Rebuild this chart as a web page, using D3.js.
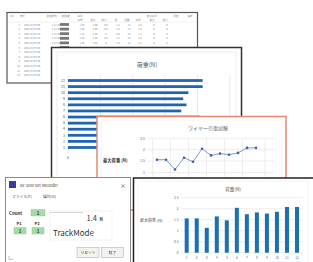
<!DOCTYPE html>
<html>
<head>
<meta charset="utf-8">
<script src="https://cdn.jsdelivr.net/npm/d3@7"></script>
<style>
html, body { margin: 0; padding: 0; background: #fff; }
svg { display: block; font-family: "Noto Sans CJK JP", "Noto Sans", sans-serif; }
</style>
</head>
<body>
<div id="chart"></div>
<script>
// Test numbers 1..12 and the max load (N) measured for each
const categories = ['1', '2', '3', '4', '5', '6', '7', '8', '9', '10', '11', '12'];
const maxLoad = [1.56, 1.56, 1.13, 1.65, 1.47, 2.04, 1.75, 1.83, 1.78, 1.86, 2.08, 2.08];
const loadTicks = [0, 0.5, 1, 1.5, 2, 2.5];

// Spreadsheet in the background
const sheetHead1 = ['No', '日付', '試験時刻', '試験者', '荷重', '', '', '', '', '', '最大荷重', '', '判定', '備考'];
const sheetHead2 = ['', '', '', '', '平均', '最大', '最小', '差', '回数', '平均', '最大', '最小', '', ''];
const sheetDates = ['2021/3/9 9:00', '2021/3/9 9:05', '2021/3/9 9:10', '2021/3/9 9:15', '2021/3/9 9:20', '2021/3/9 9:25',
  '2021/3/9 9:30', '2021/3/9 9:35', '2021/3/9 9:40', '2021/3/9 9:45', '2021/3/9 9:50', '2021/3/9 9:55'];
const sheetTimes = ['1:11:36', '1:12:04', '1:12:31', '1:12:58', '1:13:22', '1:13:49'];
const sheetValues = [
  ['1.57', '1.60', '0.5', '1.1', '12', '1.5', '0', '0'],
  ['1.55', '1.59', '0.4', '1.2', '12', '1.5', '0', '0'],
  ['1.12', '1.20', '0', '0.8', '12', '1.1', '0', '0'],
  ['1.64', '1.70', '0.5', '1.2', '12', '1.6', '0', '0'],
  ['1.48', '1.52', '0', '1.0', '12', '1.4', '0', '0'],
  ['2.03', '2.10', '0.6', '1.4', '12', '2.0', '0', '0']
];

// Recorder window
const counterValue = '1.4';
const counterUnit = 'N';
const modeLabel = 'TrackMode';

const W = 313, H = 262;
const svg = d3.select('#chart').append('svg')
  .attr('width', W).attr('height', H)
  .attr('viewBox', `0 0 ${W} ${H}`);
const defs = svg.append('defs');

function panel(id, x, y, w, h, stroke, sw) {
  defs.append('clipPath').attr('id', id)
    .append('rect').attr('x', x).attr('y', y).attr('width', w).attr('height', h);
  const g = svg.append('g').attr('clip-path', `url(#${id})`);
  g.append('rect').attr('x', x).attr('y', y).attr('width', w).attr('height', h)
    .attr('fill', '#fff');
  const frame = svg.append('rect').attr('x', x).attr('y', y).attr('width', w).attr('height', h)
    .attr('fill', 'none').attr('stroke', stroke).attr('stroke-width', sw);
  return { g, frame };
}

// ---------- spreadsheet ----------
{
  const { g } = panel('clip-sheet', 7, 12.5, 190.5, 70.5, '#555', 1.2);
  const colX = [12, 22, 52, 66, 80, 93, 104, 116, 127, 138, 152, 165, 176, 190];
  const txt = (x, y, s, anchor) => g.append('text').attr('x', x).attr('y', y)
    .attr('font-size', 2.6).attr('fill', '#888').attr('text-anchor', anchor || 'middle').text(s);
  sheetHead1.forEach((s, i) => s && txt(colX[i], 16.5, s));
  sheetHead2.forEach((s, i) => s && txt(colX[i], 20.5, s));
  g.append('line').attr('x1', 7).attr('x2', 198).attr('y1', 22).attr('y2', 22)
    .attr('stroke', '#ddd').attr('stroke-width', 0.4);
  sheetDates.forEach((d, r) => {
    const y = 25.5 + r * 4.6;
    txt(colX[0] + 8, y, String(r + 1), 'end');
    txt(colX[1] + 2, y, d, 'start');
    if (r < sheetTimes.length) {
      txt(colX[2] + 4, y, sheetTimes[r]);
      g.append('rect').attr('x', colX[3] - 6).attr('y', y - 2.4).attr('width', 9).attr('height', 2.8)
        .attr('fill', '#777');
      sheetValues[r].forEach((v, c) => txt(colX[4 + c] + 2, y, v));
    }
  });
}

// ---------- horizontal bar chart ----------
{
  const { g } = panel('clip-hbar', 51.5, 47.5, 190, 160, '#333', 1.5);
  g.append('rect').attr('x', 57).attr('y', 52).attr('width', 179).attr('height', 150)
    .attr('fill', 'none').attr('stroke', '#e2e2e2').attr('stroke-width', 0.6);
  g.append('text').attr('x', 147).attr('y', 67).attr('text-anchor', 'middle')
    .attr('font-size', 6).attr('fill', '#555').text('荷重(N)');

  const x = d3.scaleLinear().domain([0, 2.5]).range([68, 229.8]);
  const y = d3.scaleBand().domain(categories.slice().reverse()).range([75.8, 152.2]).padding(0.55);

  g.selectAll('.hgrid').data(loadTicks).enter().append('line')
    .attr('x1', d => x(d)).attr('x2', d => x(d)).attr('y1', 75).attr('y2', 153)
    .attr('stroke', '#dcdcdc').attr('stroke-width', 0.6);
  g.selectAll('.hbar').data(categories).enter().append('rect')
    .attr('x', x(0)).attr('y', d => y(d))
    .attr('width', (d, i) => x(maxLoad[i]) - x(0)).attr('height', y.bandwidth())
    .attr('fill', '#1e63b6');
  g.selectAll('.hlab').data(categories).enter().append('text')
    .attr('x', 65).attr('y', d => y(d) + y.bandwidth() / 2 + 1.2)
    .attr('text-anchor', 'end').attr('font-size', 3.6).attr('fill', '#555').text(d => d);
  g.selectAll('.htick').data(loadTicks).enter().append('text')
    .attr('x', d => x(d)).attr('y', 159).attr('text-anchor', 'middle')
    .attr('font-size', 3.6).attr('fill', '#555').text(d => d);
}

// ---------- line chart ----------
{
  const { g } = panel('clip-line', 97, 116.5, 189, 93.5, '#e58a70', 1.5);
  g.append('rect').attr('x', 101).attr('y', 120).attr('width', 181).attr('height', 100)
    .attr('fill', 'none').attr('stroke', '#ececec').attr('stroke-width', 0.6);
  g.append('text').attr('x', 208).attr('y', 130).attr('text-anchor', 'middle')
    .attr('font-size', 5).attr('fill', '#666').text('ワイヤー引張試験');
  g.append('text').attr('x', 103).attr('y', 162).attr('font-size', 4.3)
    .attr('fill', '#333').attr('font-weight', 'bold').text('最大荷重 (N)');

  const x = d3.scalePoint().domain(categories).range([157, 256]);
  const y = d3.scaleLinear().domain([0, 2.5]).range([195.3, 138.3]);
  const step = x.step();

  g.selectAll('.lgy').data(loadTicks).enter().append('line')
    .attr('x1', 148).attr('x2', 274).attr('y1', d => y(d)).attr('y2', d => y(d))
    .attr('stroke', '#e0e0e0').attr('stroke-width', 0.6);
  g.selectAll('.lgx').data(categories.filter((d, i) => i % 2 === 0)).enter().append('line')
    .attr('x1', d => x(d) - step / 2).attr('x2', d => x(d) - step / 2)
    .attr('y1', y(2.5)).attr('y2', y(0))
    .attr('stroke', '#e6e6e6').attr('stroke-width', 0.6);
  g.append('line').attr('x1', 265).attr('x2', 265).attr('y1', y(2.5)).attr('y2', y(0))
    .attr('stroke', '#e6e6e6').attr('stroke-width', 0.6);
  g.selectAll('.lty').data(loadTicks).enter().append('text')
    .attr('x', 145).attr('y', d => y(d) + 1.2).attr('text-anchor', 'end')
    .attr('font-size', 3.4).attr('fill', '#666').text(d => d);

  const line = d3.line().x((d, i) => x(categories[i])).y(d => y(d));
  g.append('path').datum(maxLoad).attr('d', line)
    .attr('fill', 'none').attr('stroke', '#6f8fcf').attr('stroke-width', 0.9);
  g.selectAll('.pt').data(maxLoad).enter().append('circle')
    .attr('cx', (d, i) => x(categories[i])).attr('cy', d => y(d)).attr('r', 1.3)
    .attr('fill', '#3f5fae');
}

// ---------- recorder window ----------
{
  const { g } = panel('clip-win', 5.5, 177.5, 125, 90, '#8a8a8a', 1);
  g.append('rect').attr('x', 9).attr('y', 181).attr('width', 7).attr('height', 7).attr('fill', '#3b3a9e');
  g.append('text').attr('x', 20).attr('y', 186.5).attr('font-size', 3.8).attr('fill', '#444')
    .text('RZ 3000 Net Recorder');
  g.append('text').attr('x', 123).attr('y', 188).attr('text-anchor', 'middle')
    .attr('font-size', 6).attr('fill', '#444').text('×');
  g.append('text').attr('x', 12).attr('y', 197.5).attr('font-size', 3.8).attr('fill', '#444').text('ファイル(F)');
  g.append('text').attr('x', 43).attr('y', 197.5).attr('font-size', 3.8).attr('fill', '#444').text('操作(O)');

  g.append('text').attr('x', 9).attr('y', 214.5).attr('font-size', 4.4).attr('font-weight', 'bold')
    .attr('fill', '#333').text('Count');
  const green = (x, y, w) => {
    g.append('rect').attr('x', x).attr('y', y).attr('width', w).attr('height', 6.5)
      .attr('fill', '#a5dca5').attr('stroke', '#86c486').attr('stroke-width', 0.4);
    g.append('text').attr('x', x + w / 2).attr('y', y + 5).attr('text-anchor', 'middle')
      .attr('font-size', 4.5).attr('font-weight', 'bold').attr('fill', '#333').text('1');
  };
  green(31, 209.5, 14);
  g.append('text').attr('x', 19).attr('y', 224.5).attr('text-anchor', 'middle')
    .attr('font-size', 4).attr('font-weight', 'bold').attr('fill', '#333').text('P1');
  g.append('text').attr('x', 37).attr('y', 224.5).attr('text-anchor', 'middle')
    .attr('font-size', 4).attr('font-weight', 'bold').attr('fill', '#333').text('P2');
  green(14, 227.5, 12);
  green(32, 227.5, 12);

  g.append('rect').attr('x', 50).attr('y', 211).attr('width', 62).attr('height', 29)
    .attr('fill', '#fff').attr('stroke', '#e4e4e4').attr('stroke-width', 0.5);
  g.append('line').attr('x1', 50).attr('x2', 83).attr('y1', 212.5).attr('y2', 212.5)
    .attr('stroke', '#bbb').attr('stroke-width', 0.6);
  g.append('text').attr('x', 97).attr('y', 220.5).attr('text-anchor', 'end')
    .attr('font-size', 7.5).attr('fill', '#333').text(counterValue);
  g.append('text').attr('x', 99.5).attr('y', 220.5)
    .attr('font-size', 4.5).attr('font-weight', 'bold').attr('fill', '#333').text(counterUnit);
  g.append('text').attr('x', 53).attr('y', 235.5)
    .attr('font-size', 8).attr('fill', '#333').text(modeLabel);

  const button = (x, w, label) => {
    g.append('rect').attr('x', x).attr('y', 247.5).attr('width', w).attr('height', 10)
      .attr('fill', '#f2f2f2').attr('stroke', '#b5b5b5').attr('stroke-width', 0.6);
    g.append('text').attr('x', x + w / 2).attr('y', 254).attr('text-anchor', 'middle')
      .attr('font-size', 3.8).attr('fill', '#333').text(label);
  };
  button(77, 22, 'リセット');
  button(101.5, 22, '終了');
  g.append('path').attr('d', 'M9,256 L9,259.5 L13,259.5').attr('fill', 'none')
    .attr('stroke', '#999').attr('stroke-width', 0.6);
}

// ---------- column chart ----------
{
  const { g } = panel('clip-col', 133.5, 178, 190, 90, '#222', 1.5);
  g.append('rect').attr('x', 138).attr('y', 181).attr('width', 170).attr('height', 85)
    .attr('fill', 'none').attr('stroke', '#ececec').attr('stroke-width', 0.6);
  g.append('text').attr('x', 233).attr('y', 190.5).attr('text-anchor', 'middle')
    .attr('font-size', 4.6).attr('fill', '#555').text('荷重(N)');
  g.append('text').attr('x', 140).attr('y', 221.5).attr('font-size', 4)
    .attr('fill', '#444').text('最大荷重 (N)');

  const x = d3.scaleBand().domain(categories).range([181.7, 302]).paddingInner(0.6).paddingOuter(0.3);
  const y = d3.scaleLinear().domain([0, 2.5]).range([252.7, 197.7]);

  g.selectAll('.cg').data(loadTicks).enter().append('line')
    .attr('x1', 181).attr('x2', 303).attr('y1', d => y(d)).attr('y2', d => y(d))
    .attr('stroke', '#e2e2e2').attr('stroke-width', 0.6);
  g.selectAll('.ct').data(loadTicks).enter().append('text')
    .attr('x', 178.5).attr('y', d => y(d) + 1.1).attr('text-anchor', 'end')
    .attr('font-size', 3.2).attr('fill', '#666').text(d => d);
  g.selectAll('.cb').data(categories).enter().append('rect')
    .attr('x', d => x(d)).attr('y', (d, i) => y(maxLoad[i]))
    .attr('width', x.bandwidth()).attr('height', (d, i) => y(0) - y(maxLoad[i]))
    .attr('fill', '#1d6fb3');
  g.selectAll('.cx').data(categories).enter().append('text')
    .attr('x', d => x(d) + x.bandwidth() / 2).attr('y', 258.5).attr('text-anchor', 'middle')
    .attr('font-size', 3.2).attr('fill', '#666').text(d => d);
}
</script>
</body>
</html>
